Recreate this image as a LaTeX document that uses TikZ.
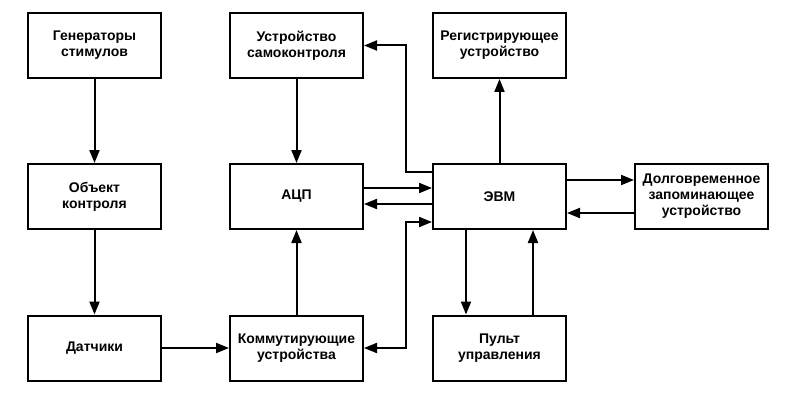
\documentclass[tikz,border=0pt]{standalone}
\usepackage{fontspec}
\setmainfont{Liberation Sans}
\usetikzlibrary{arrows.meta}

\begin{document}
\begin{tikzpicture}[x=1pt,y=-1pt,
  box/.style={draw, line width=2pt, minimum width=133pt, minimum height=65pt,
    inner sep=2pt, align=center, font=\fontsize{14}{16}\selectfont\bfseries},
  arr/.style={line width=2pt, -{Triangle[length=13pt,width=10pt]}},
  arrs/.style={line width=2pt, {Triangle[length=13pt,width=10pt]}-{Triangle[length=13pt,width=10pt]}}]

\useasboundingbox (0,0) rectangle (797,401);

% left column
\node[box] (gen) at (94.5,45.5) {Генераторы\\стимулов};
\node[box] (obj) at (94.5,196.5) {Объект\\контроля};
\node[box] (dat) at (94.5,348) {Датчики};

% middle column
\node[box] (samo) at (296.5,45.5) {Устройство\\самоконтроля};
\node[box] (acp) at (296.5,196.5) {АЦП};
\node[box] (komm) at (296.5,348) {Коммутирующие\\устройства};

% right column
\node[box] (reg) at (499.5,45.5) {Регистрирующее\\устройство};
\node[box] (evm) at (499.5,196.5) {ЭВМ};
\node[box] (pult) at (499.5,348) {Пульт\\управления};
\node[box] (zu) at (701.5,196.5) {Долговременное\\запоминающее\\устройство};

\coordinate (j) at (406,0);

\draw[arr] (gen) -- (obj);
\draw[arr] (obj) -- (dat);
\draw[arr] (dat) -- (komm);
\draw[arr] (samo) -- (acp);
\draw[arr] (komm) -- (acp);

\draw[arr] (evm.west |- 0,172) -| (j |- samo.east) -- (samo.east);
\draw[arr] (acp.east |- 0,188) -- (evm.west |- 0,188);
\draw[arr] (evm.west |- 0,204) -- (acp.east |- 0,204);
\draw[arrs] (komm.east) -| (j |- 0,222) -- (evm.west |- 0,222);

\draw[arr] (evm) -- (reg);
\draw[arr] (evm.south -| 466,0) -- (pult.north -| 466,0);
\draw[arr] (pult.north -| 533,0) -- (evm.south -| 533,0);
\draw[arr] (evm.east |- 0,180) -- (zu.west |- 0,180);
\draw[arr] (zu.west |- 0,213) -- (evm.east |- 0,213);

\end{tikzpicture}
\end{document}
